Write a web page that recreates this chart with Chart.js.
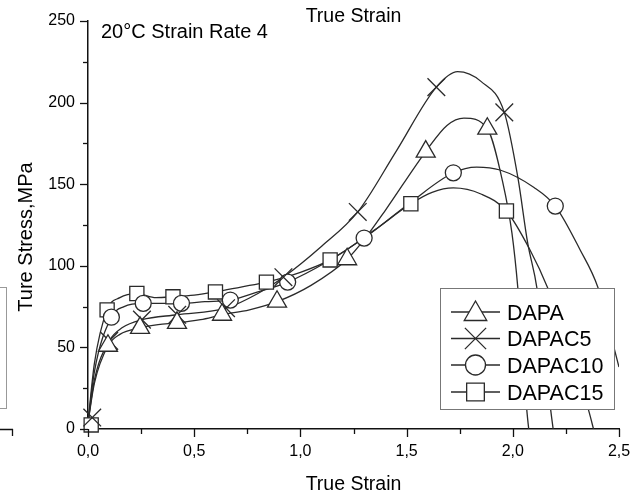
<!DOCTYPE html>
<html>
<head>
<meta charset="utf-8">
<script src="https://cdn.jsdelivr.net/npm/chart.js@4.4.0/dist/chart.umd.min.js"></script>
<style>
  html, body { margin: 0; padding: 0; background: #fff; }
  #wrap { width: 641px; height: 498px; position: relative; }
</style>
</head>
<body>
<div id="wrap"><canvas id="chart" width="641" height="498"></canvas></div>
<script>
// Series names (legend order)
const seriesNames = ['DAPA', 'DAPAC5', 'DAPAC10', 'DAPAC15'];

// Axis ticks
const xTicks = [0, 0.5, 1.0, 1.5, 2.0, 2.5];
const yTicks = [0, 50, 100, 150, 200, 250];

// Curves: [true strain, true stress MPa]
const dapaCurve = [[0,4],[0.03,28],[0.094,51],[0.15,58],[0.245,62],[0.33,64],[0.419,65],[0.53,67],[0.631,70],[0.76,73],[0.89,78],[1.05,88],[1.22,104],[1.3,116],[1.4,134],[1.59,170],[1.69,186],[1.77,190.5],[1.88,184],[1.953,151],[1.996,120],[2.024,86],[2.067,10],[2.075,0]];
const dapac5Curve = [[0,4],[0.03,30],[0.1,54],[0.16,62],[0.254,67],[0.42,70],[0.65,74],[0.8,83],[0.92,93],[1.1,112],[1.27,133],[1.45,170],[1.64,209.5],[1.74,219],[1.85,213],[1.96,194],[2.024,154],[2.07,114],[2.114,86],[2.18,10],[2.19,0]];
const dapac10Curve = [[0,4],[0.03,35],[0.11,68.5],[0.17,75],[0.26,77],[0.35,77],[0.44,77],[0.55,78],[0.67,79],[0.8,84],[0.94,90],[1.12,102],[1.3,117],[1.52,139],[1.72,157],[1.83,160.5],[1.94,158.7],[2.1,148],[2.2,136.6],[2.316,110],[2.4,87],[2.47,53],[2.5,38]];
const dapac15Curve = [[0,4],[0.03,40],[0.09,73],[0.15,80.5],[0.23,83],[0.32,80.5],[0.4,81],[0.5,82],[0.6,84],[0.72,87],[0.84,90],[1.0,96],[1.14,103.6],[1.35,122],[1.52,138],[1.62,145],[1.72,147.7],[1.85,144],[1.97,133.6],[2.08,110],[2.166,86],[2.28,45],[2.36,10],[2.38,0]];

// Marker positions
const dapaMarks = [[0.094,51],[0.245,62],[0.419,65],[0.631,70],[0.89,78],[1.22,104],[1.59,170],[1.88,184]];
const dapac5Marks = [[0.02,7],[0.1,54],[0.254,67],[0.42,70],[0.65,74],[0.92,93],[1.27,133],[1.64,209.5],[1.96,194]];
const dapac10Marks = [[0.11,68.5],[0.26,77],[0.44,77],[0.67,79],[0.94,90],[1.3,117],[1.72,157],[2.2,136.6]];
const dapac15Marks = [[0.015,2.5],[0.09,73],[0.23,83],[0.4,81],[0.6,84],[0.84,90],[1.14,103.6],[1.52,138],[1.97,133.6]];

const curves = [dapaCurve, dapac5Curve, dapac10Curve, dapac15Curve];
const marks = [dapaMarks, dapac5Marks, dapac10Marks, dapac15Marks];
const styles = ['triangle', 'crossRot', 'circle', 'rect'];
const radii = [11, 12.5, 8, 10];

const ink = '#2a2a2a';
const textInk = '#000';
const FONT = 'Arial, "Liberation Sans", sans-serif';

const toXY = arr => arr.map(p => ({ x: p[0], y: p[1] }));

const datasets = [];
curves.forEach((c, i) => {
    datasets.push({
        label: seriesNames[i],
        data: toXY(c),
        borderColor: ink,
        borderWidth: 1.3,
        pointRadius: 0,
        cubicInterpolationMode: 'monotone',
        fill: false,
        order: 2
    });
});
marks.forEach((m, i) => {
    datasets.push({
        label: seriesNames[i] + ' marks',
        data: toXY(m),
        showLine: false,
        pointStyle: styles[i],
        pointRadius: radii[i],
        pointBorderWidth: 1.3,
        pointBorderColor: ink,
        pointBackgroundColor: '#fff',
        clip: false,
        order: 1
    });
});

// helper to draw a marker shape (legend only)
function drawMarker(ctx, style, x, y, r) {
    ctx.beginPath();
    if (style === 'triangle') {
        ctx.moveTo(x, y - r);
        ctx.lineTo(x + r * Math.sin(2 * Math.PI / 3), y - r * Math.cos(2 * Math.PI / 3));
        ctx.lineTo(x + r * Math.sin(4 * Math.PI / 3), y - r * Math.cos(4 * Math.PI / 3));
        ctx.closePath();
        ctx.fill(); ctx.stroke();
    } else if (style === 'circle') {
        ctx.arc(x, y, r, 0, Math.PI * 2);
        ctx.fill(); ctx.stroke();
    } else if (style === 'rect') {
        const s = r * Math.SQRT1_2;
        ctx.rect(x - s, y - s, 2 * s, 2 * s);
        ctx.fill(); ctx.stroke();
    } else {
        const d = r * Math.SQRT1_2;
        ctx.moveTo(x - d, y - d); ctx.lineTo(x + d, y + d);
        ctx.moveTo(x + d, y - d); ctx.lineTo(x - d, y + d);
        ctx.stroke();
    }
}

// Extra drawing: tick marks, texts, legend, neighbouring panel fragment
const extras = {
    id: 'extras',
    afterDraw(chart) {
        const ctx = chart.ctx;
        const xs = chart.scales.x, ys = chart.scales.y;
        const area = chart.chartArea;
        ctx.save();
        ctx.strokeStyle = '#111';
        ctx.lineWidth = 1.3;
        // x ticks
        xs.ticks.forEach(t => {
            const px = Math.round(xs.getPixelForValue(t.value)) + 0.5;
            const major = xTicks.some(v => Math.abs(v - t.value) < 1e-6);
            ctx.beginPath();
            ctx.moveTo(px, area.bottom);
            ctx.lineTo(px, area.bottom + (major ? 8 : 5));
            ctx.stroke();
        });
        ys.ticks.forEach(t => {
            const py = Math.round(ys.getPixelForValue(t.value)) + 0.5;
            const major = yTicks.includes(t.value);
            ctx.beginPath();
            ctx.moveTo(area.left, py);
            ctx.lineTo(area.left - (major ? 8 : 5), py);
            ctx.stroke();
        });

        // texts
        ctx.fillStyle = textInk;
        ctx.textAlign = 'center';
        ctx.textBaseline = 'alphabetic';
        ctx.font = '19.5px ' + FONT;
        ctx.fillText('True Strain', (area.left + area.right) / 2, 22);

        ctx.textAlign = 'left';
        ctx.font = '20px ' + FONT;
        ctx.fillText('20°C Strain Rate 4', 101, 38);

        ctx.save();
        ctx.translate(31.5, 237);
        ctx.rotate(-Math.PI / 2);
        ctx.textAlign = 'center';
        ctx.fillText('Ture Stress,MPa', 0, 0);
        ctx.restore();

        // legend
        ctx.fillStyle = '#fff';
        ctx.strokeStyle = '#777';
        ctx.lineWidth = 1;
        ctx.fillRect(440.5, 288.5, 174, 121);
        ctx.strokeRect(440.5, 288.5, 174, 121);
        const rowY = [312, 338.5, 365, 392];
        const legR = [13, 15, 10, 12.5];
        seriesNames.forEach((name, i) => {
            const y = rowY[i];
            ctx.strokeStyle = ink;
            ctx.lineWidth = 1.3;
            ctx.beginPath();
            ctx.moveTo(451, y); ctx.lineTo(500, y);
            ctx.stroke();
            ctx.fillStyle = '#fff';
            drawMarker(ctx, styles[i], 475.5, styles[i] === 'triangle' ? y + 2 : y, legR[i]);
            ctx.fillStyle = textInk;
            ctx.font = '21.5px ' + FONT;
            ctx.textAlign = 'left';
            ctx.fillText(name, 507, y + 7.5);
        });

        // fragment of the neighbouring panel at the left edge
        ctx.strokeStyle = '#999';
        ctx.lineWidth = 1;
        ctx.strokeRect(-1.5, 287.5, 8, 121);
        ctx.strokeStyle = '#111';
        ctx.lineWidth = 1.3;
        ctx.beginPath();
        ctx.moveTo(0, 429.5); ctx.lineTo(13, 429.5);
        ctx.moveTo(12.5, 429); ctx.lineTo(12.5, 436);
        ctx.stroke();
        ctx.restore();
    }
};

new Chart(document.getElementById('chart').getContext('2d'), {
    type: 'line',
    data: { datasets: datasets },
    options: {
        responsive: false,
        animation: false,
        events: [],
        layout: { padding: { top: 21, right: 22, left: 0, bottom: 0 } },
        plugins: {
            legend: { display: false },
            title: { display: false },
            tooltip: { enabled: false }
        },
        scales: {
            x: {
                type: 'linear',
                min: 0, max: 2.5,
                afterFit: s => { s.height = 69; },
                ticks: {
                    stepSize: 0.25,
                    autoSkip: false,
                    maxRotation: 0,
                    padding: 5,
                    color: textInk,
                    font: { family: FONT, size: 16 },
                    callback: v => xTicks.some(t => Math.abs(t - v) < 1e-6) ? v.toFixed(1).replace('.', ',') : ''
                },
                grid: { display: false, drawTicks: true, tickLength: 8 },
                border: { display: true, color: '#111', width: 1.5 },
                title: {
                    display: true,
                    text: 'True Strain',
                    color: textInk,
                    font: { family: FONT, size: 19.5 },
                    padding: { top: 0, bottom: 2 }
                }
            },
            y: {
                type: 'linear',
                min: 0, max: 250,
                afterFit: s => { s.width = 88; },
                ticks: {
                    stepSize: 25,
                    autoSkip: false,
                    padding: 5,
                    color: textInk,
                    font: { family: FONT, size: 16 },
                    callback: v => yTicks.includes(v) ? String(v) : ''
                },
                grid: { display: false, drawTicks: true, tickLength: 8 },
                border: { display: true, color: '#111', width: 1.5 }
            }
        }
    },
    plugins: [extras]
});
</script>
</body>
</html>
